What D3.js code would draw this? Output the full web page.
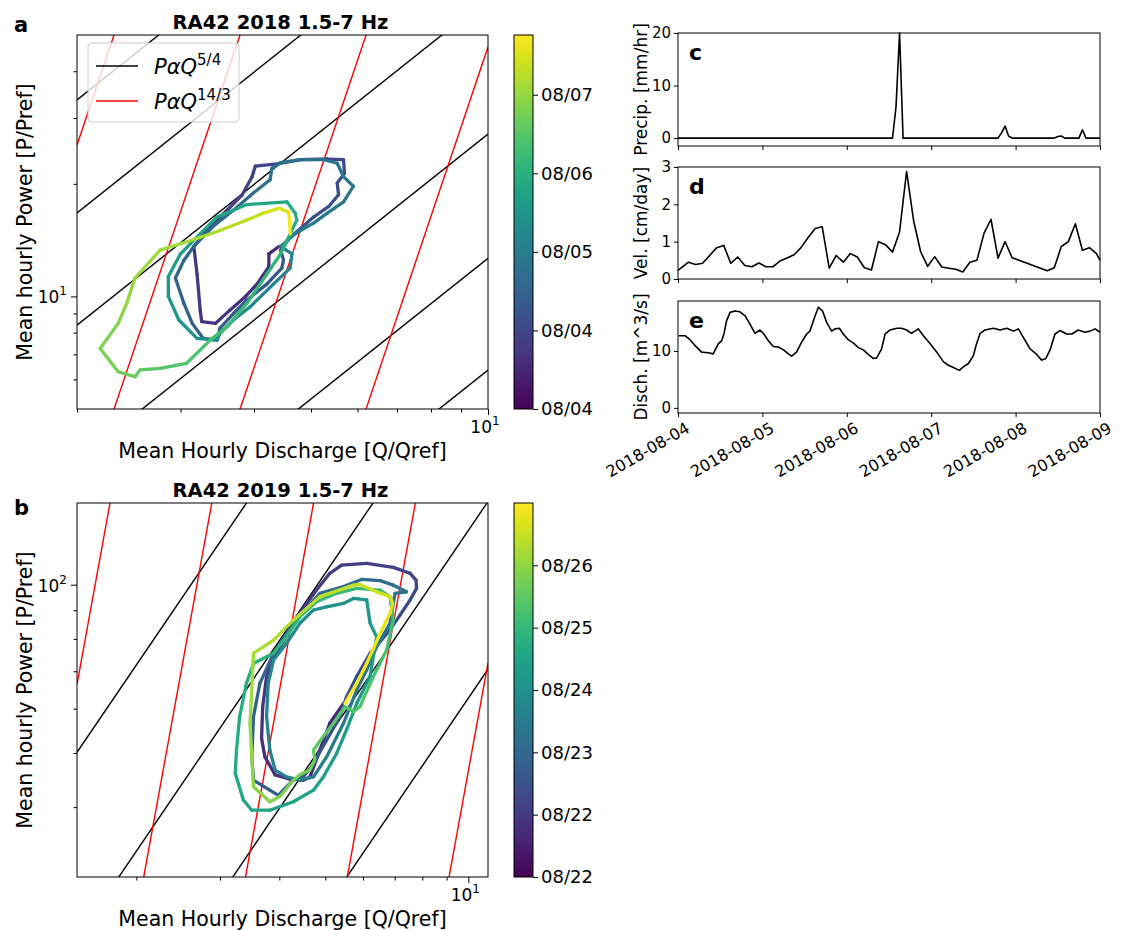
<!DOCTYPE html>
<html>
<head>
<meta charset="utf-8">
<script src="https://cdn.jsdelivr.net/npm/d3@7"></script>
<style>
  body { margin: 0; background: #fff; }
  text { font-family: "DejaVu Sans", sans-serif; }
</style>
</head>
<body>
<script>
// ---------- data: hysteresis loops, 2018 (panel a), [Q/Qref, P/Pref] ----------
const loopA1 = [[4.41,13.6],[4.24,13.0],[4.24,12.0],[4.05,10.8],[3.87,10.0],[3.64,9.19],[3.44,8.47],[3.26,8.56],
  [3.24,9.19],[3.20,11.5],[3.16,13.6],[3.37,15.4],[3.60,17.0],[3.82,18.7],[3.97,20.9],[4.02,22.3],[4.38,22.6],
  [4.80,23.2],[5.33,23.3],[5.68,23.2],[5.70,21.3],[5.54,20.1],[5.57,18.7],[5.36,17.4],[5.05,16.3],[4.80,15.2],[4.61,14.4]];
const loopA2 = [[4.44,13.3],[4.49,12.5],[4.46,11.9],[4.21,10.8],[3.89,9.78],[3.69,9.00],[3.50,8.22],[3.46,7.64],
  [3.28,7.72],[3.14,8.47],[3.04,9.58],[2.94,11.2],[3.04,12.5],[3.16,13.6],[3.41,15.4],[3.69,17.0],[3.99,18.9],
  [4.26,20.5],[4.29,22.0],[4.44,22.8],[4.80,23.2],[5.26,23.2],[5.54,22.7],[5.68,20.9],[5.90,19.7],[5.68,17.9],
  [5.33,16.7],[5.05,15.7],[4.80,15.0],[4.67,14.6]];
const loopA3 = [[4.44,13.6],[4.64,13.0],[4.61,11.9],[4.32,10.8],[3.94,9.38],[3.69,8.65],[3.50,7.96],[3.46,7.64],
  [3.20,7.72],[2.98,8.65],[2.86,10.0],[2.86,11.3],[3.00,13.0],[3.24,14.7],[3.46,16.3],[3.89,17.6],[4.55,17.9],
  [4.70,16.7],[4.73,16.0],[4.61,14.7]];
const loopA4 = [[4.44,13.0],[4.21,11.5],[3.89,9.58],[3.60,8.30],[3.37,7.64],[3.07,6.62],[2.77,6.42],[2.56,6.36],
  [2.51,6.10],[2.35,6.29],[2.19,7.26],[2.35,8.47],[2.43,9.58],[2.51,11.2],[2.77,13.3]];
const loopA5 = [[3.16,14.2],[3.50,15.0],[3.89,16.0],[4.15,16.7],[4.41,17.2],[4.58,16.8],[4.60,15.7],[4.61,14.7]];
const loopsA = [loopA1, loopA2, loopA3, loopA4, loopA5];
const timesA = [[0.55,1.25],[1.25,2.0],[2.0,3.05],[3.05,4.1],[4.1,4.76]];

// ---------- data: hysteresis loops, 2019 (panel b) ----------
const loopB1 = [[5.46,61.3],[5.11,56.5],[4.87,50.6],[4.64,45.3],[4.49,44.7],[4.21,44.9],[3.92,45.7],[3.73,49.2],
  [3.67,53.1],[3.69,60.5],[3.76,68.5],[3.89,74.3],[4.14,80.7],[4.42,88.9],[4.79,97.8],[5.11,104.8],[5.41,108.4],
  [6.11,109.2],[6.95,107.4],[7.54,104.8],[7.76,101.9],[7.78,98.5],[7.54,93.9],[7.18,88.2],[6.84,83.0],[6.52,79.1],
  [6.21,75.4],[5.82,68.5],[5.54,63.0]];
const loopB2 = [[5.37,58.1],[5.03,52.7],[4.68,47.3],[4.49,45.3],[4.28,44.7],[4.11,43.2],[3.98,42.0],[3.82,42.9],
  [3.67,43.8],[3.53,44.7],[3.50,49.2],[3.53,58.1],[3.64,66.6],[3.89,75.4],[4.28,85.3],[4.87,96.5],[5.46,99.2],
  [5.96,102.2],[6.52,101.7],[6.95,99.8],[7.41,97.1],[7.01,96.5],[6.95,92.6],[6.84,85.3],[6.41,77.4],[6.11,70.4],[5.82,64.8]];
const loopB3 = [[5.46,56.5],[5.03,49.2],[4.72,45.3],[4.42,44.7],[4.14,45.3],[3.92,46.6],[3.82,50.6],[3.76,58.1],
  [3.79,66.6],[3.89,73.3],[4.14,78.5],[4.42,85.3],[4.72,90.1],[5.03,91.3],[5.46,92.6],[5.73,94.5],[6.11,93.9],
  [6.21,85.3],[6.41,80.7],[6.21,68.5],[5.82,61.3]];
const loopB4 = [[5.54,55.0],[5.28,49.9],[4.95,45.3],[4.72,42.9],[4.28,40.9],[3.82,39.5],[3.50,39.5],[3.36,41.2],
  [3.23,46.0],[3.25,50.6],[3.30,58.1],[3.41,66.6],[3.53,72.3],[3.89,75.4],[4.14,80.7],[4.42,87.6],[4.79,93.2],
  [5.28,96.5],[5.82,98.5],[6.52,97.8],[6.84,95.2],[6.95,86.4],[6.73,76.4],[6.31,68.5],[5.91,60.5],[5.73,59.3],[5.50,60.5]];
const loopB5 = [[5.20,56.5],[4.95,53.5],[4.72,50.6],[4.75,48.6],[4.64,46.6],[4.42,45.7],[4.28,44.7],[4.01,41.8],
  [3.82,40.9],[3.53,43.5],[3.50,49.2],[3.47,56.5],[3.50,64.8],[3.53,75.4],[3.89,79.6],[4.28,86.4],[4.87,95.2],
  [5.73,99.8],[5.91,100.1],[6.41,97.1],[6.84,95.2],[6.93,92.6],[6.84,88.9],[6.52,81.8],[6.11,72.3],[5.82,66.6],[5.50,61.3]];
const loopsB = [loopB1, loopB2, loopB3, loopB4, loopB5];
const timesB = [[0.6,1.5],[1.5,2.4],[2.4,3.3],[3.3,4.4],[4.4,6.0]];

// power-law reference lines: log10 of the prefactor
const blackLogCA = [1.149, 0.847, 0.547, 0.184, -0.148, -0.447];
const blackLogCB = [1.48, 1.147, 0.847, 0.547];
const redLogC = [1, 0, -1, -2, -3];

// colorbar ticks
const cbTicksA = [0, 1, 2, 3, 4];
const cbLabelsA = ["08/04", "08/04", "08/05", "08/06", "08/07"];
const cbTicksB = [0, 1, 2, 3, 4, 5];
const cbLabelsB = ["08/22", "08/22", "08/23", "08/24", "08/25", "08/26"];

// ---------- data: time series (hours after 2018-08-04 00:00) ----------
const precipHr = [0, 61, 62, 63, 64, 91, 92, 93, 94, 95, 107, 108, 109, 110, 114, 115, 116, 120];
const precipVal = [0, 0, 6, 20, 0, 0, 1.0, 2.3, 0.4, 0, 0, 0.3, 0.4, 0, 0, 1.6, 0, 0];

const velHr = [0, 3, 5, 7, 9, 11, 13, 15, 17, 19, 21, 23, 25, 27, 29, 31, 33, 35, 37, 39, 41, 43, 45, 47, 49, 51, 53, 55,
  57, 59, 61, 63, 65, 67, 69, 71, 73, 75, 77, 79, 81, 83, 85, 87, 89, 91, 93, 95, 105, 107, 109, 111, 113, 115, 117, 119, 120];
const velVal = [0.23, 0.45, 0.39, 0.42, 0.63, 0.84, 0.90, 0.42, 0.59, 0.36, 0.33, 0.43, 0.33, 0.33, 0.48, 0.56, 0.65, 0.84,
  1.11, 1.35, 1.40, 0.29, 0.63, 0.45, 0.68, 0.59, 0.30, 0.24, 1.0, 0.92, 0.72, 1.26, 2.88, 1.56, 0.73, 0.34, 0.60, 0.32,
  0.29, 0.26, 0.19, 0.45, 0.50, 1.22, 1.60, 0.56, 1.0, 0.57, 0.22, 0.30, 0.87, 1.0, 1.48, 0.77, 0.84, 0.68, 0.5];

const dischHr = [0.2, 2.0, 3.4, 4.8, 6.7, 8.6, 10.0, 11.5, 12.4, 13.1, 13.8, 14.8, 16.2, 17.6, 19.1, 20.5, 21.9, 23.3,
  24.3, 25.7, 27.1, 28.5, 30.0, 31.4, 32.3, 33.7, 35.2, 36.6, 37.5, 39.0, 39.9, 41.1, 42.3, 43.7, 44.6, 45.9, 47.0,
  48.4, 49.9, 51.3, 52.7, 54.1, 55.5, 56.5, 57.9, 58.9, 60.3, 62.2, 63.6, 65.0, 66.4, 68.3, 69.8, 71.7, 73.6, 75.5,
  76.9, 78.3, 80.0, 81.1, 82.6, 84.0, 84.9, 85.9, 87.3, 89.7, 91.6, 93.5, 95.4, 96.8, 98.2, 100.1, 102.0, 103.4,
  104.6, 105.8, 107.2, 108.6, 110.5, 112.0, 113.8, 115.7, 117.2, 118.6, 120.0];
const dischVal = [12.7, 12.7, 12.0, 11.0, 9.8, 9.7, 9.5, 11.3, 11.8, 13.1, 15.3, 16.8, 17.05, 16.9, 16.2, 14.7, 13.1, 13.7,
  13.1, 11.8, 10.8, 10.7, 10.2, 9.5, 9.1, 9.8, 11.6, 13.0, 13.5, 16.2, 17.7, 17.05, 15.0, 13.5, 13.9, 14.0, 13.0,
  12.0, 11.4, 10.6, 10.2, 9.4, 8.7, 8.8, 10.4, 13.0, 13.7, 14.0, 14.0, 13.7, 13.1, 13.9, 12.7, 11.3, 9.8, 8.1,
  7.5, 7.1, 6.6, 7.2, 7.8, 9.2, 11.3, 13.1, 13.7, 14.0, 13.7, 14.0, 13.5, 13.9, 12.4, 10.4, 9.4, 8.4,
  8.7, 10.2, 13.0, 13.6, 13.0, 13.0, 13.7, 13.3, 13.5, 13.9, 13.3];

// ---------- page ----------
const W = 1127, H = 930;
const svg = d3.select("body").append("svg").attr("width", W).attr("height", H);
svg.append("rect").attr("width", W).attr("height", H).attr("fill", "#fff");
const defs = svg.append("defs");

// superscript label like 10^1
function powLabel(g, x, y, base, exp, anchor) {
  const t = g.append("text").attr("x", x).attr("y", y).attr("text-anchor", anchor)
    .attr("font-size", 17).attr("fill", "#000");
  t.append("tspan").text(base);
  t.append("tspan").attr("dy", -8).attr("font-size", 12).text(exp);
}

function logPanel(cfg) {
  const left = 77, right = 488;
  const x = d3.scaleLog().domain(cfg.qDomain).range([left, right]);
  const y = d3.scaleLog().domain(cfg.pDomain).range([cfg.bottom, cfg.top]);
  const g = svg.append("g");

  defs.append("clipPath").attr("id", "clip" + cfg.id)
    .append("rect").attr("x", left).attr("y", cfg.top)
    .attr("width", right - left).attr("height", cfg.bottom - cfg.top);
  const plot = g.append("g").attr("clip-path", `url(#clip${cfg.id})`);

  const line = d3.line().x(d => x(d[0])).y(d => y(d[1]));
  const powerLine = (logc, k) => cfg.qDomain.map(q => [q, Math.pow(10, logc) * Math.pow(q, k)]);

  cfg.blackC.forEach(c => {
    plot.append("path").attr("d", line(powerLine(c, 5 / 4)))
      .attr("fill", "none").attr("stroke", "#000").attr("stroke-width", 1.4);
  });
  redLogC.forEach(c => {
    plot.append("path").attr("d", line(powerLine(c, 14 / 3)))
      .attr("fill", "none").attr("stroke", "#ff0000").attr("stroke-width", 1.4);
  });

  // loops coloured by time, one continuous trace
  const pts = [];
  cfg.loops.forEach((lp, i) => {
    const [t0, t1] = cfg.times[i];
    lp.forEach((p, j) => pts.push({ q: p[0], p: p[1], t: t0 + (t1 - t0) * j / (lp.length - 1) }));
  });
  const segs = d3.pairs(pts);
  plot.selectAll("line.seg").data(segs).enter().append("line")
    .attr("x1", d => x(d[0].q)).attr("y1", d => y(d[0].p))
    .attr("x2", d => x(d[1].q)).attr("y2", d => y(d[1].p))
    .attr("stroke", d => d3.interpolateViridis(((d[0].t + d[1].t) / 2) / cfg.cbMax))
    .attr("stroke-width", 3.3).attr("stroke-linecap", "round");

  // frame
  g.append("rect").attr("x", left).attr("y", cfg.top)
    .attr("width", right - left).attr("height", cfg.bottom - cfg.top)
    .attr("fill", "none").attr("stroke", "#000").attr("stroke-width", 1);

  // axes
  const xMinor = g.append("g").attr("transform", `translate(0,${cfg.bottom})`)
    .call(d3.axisBottom(x).tickValues(cfg.qMinor).tickSize(3.5).tickFormat(""));
  const xMajor = g.append("g").attr("transform", `translate(0,${cfg.bottom})`)
    .call(d3.axisBottom(x).tickValues([10]).tickSize(6).tickFormat(""));
  const yMinor = g.append("g").attr("transform", `translate(${left},0)`)
    .call(d3.axisLeft(y).tickValues(cfg.pMinor).tickSize(3.5).tickFormat(""));
  const yMajor = g.append("g").attr("transform", `translate(${left},0)`)
    .call(d3.axisLeft(y).tickValues([cfg.pMajor]).tickSize(6).tickFormat(""));
  [xMinor, xMajor, yMinor, yMajor].forEach(a => a.select(".domain").remove());
  g.selectAll(".tick line").attr("stroke", "#000");

  powLabel(g, x(10) - 3, cfg.bottom + 24, "10", "1", "middle");
  powLabel(g, left - 10, y(cfg.pMajor) + 7, "10", cfg.pMajorExp, "end");

  g.append("text").attr("x", (left + right) / 2).attr("y", cfg.bottom + 49)
    .attr("text-anchor", "middle").attr("font-size", 20.5).text("Mean Hourly Discharge [Q/Qref]");
  g.append("text").attr("transform", `translate(32,${(cfg.top + cfg.bottom) / 2}) rotate(-90)`)
    .attr("text-anchor", "middle").attr("font-size", 20.5).text("Mean hourly Power [P/Pref]");
  g.append("text").attr("x", (left + right) / 2 - 2).attr("y", cfg.top - 6)
    .attr("text-anchor", "middle").attr("font-size", 19.5).attr("font-weight", "bold").text(cfg.title);
  g.append("text").attr("x", 14).attr("y", cfg.letterY)
    .attr("font-size", 21).attr("font-weight", "bold").text(cfg.letter);

  // colorbar
  const cbx = 514, cbw = 19;
  const grad = defs.append("linearGradient").attr("id", "grad" + cfg.id)
    .attr("x1", 0).attr("y1", 1).attr("x2", 0).attr("y2", 0);
  d3.range(0, 1.0001, 0.05).forEach(o => {
    grad.append("stop").attr("offset", o).attr("stop-color", d3.interpolateViridis(o));
  });
  g.append("rect").attr("x", cbx).attr("y", cfg.top).attr("width", cbw).attr("height", cfg.bottom - cfg.top)
    .attr("fill", `url(#grad${cfg.id})`).attr("stroke", "#000").attr("stroke-width", 1);
  const cb = d3.scaleLinear().domain([0, cfg.cbMax]).range([cfg.bottom, cfg.top]);
  const cbAxis = g.append("g").attr("transform", `translate(${cbx + cbw},0)`)
    .call(d3.axisRight(cb).tickValues(cfg.cbTicks).tickSize(5).tickPadding(3)
      .tickFormat((d, i) => cfg.cbLabels[i]));
  cbAxis.select(".domain").remove();
  cbAxis.selectAll("text").attr("font-size", 18).attr("font-family", "DejaVu Sans").attr("fill", "#000");
  cbAxis.selectAll(".tick line").attr("stroke", "#000");

  return { g, x, y };
}

const pa = logPanel({
  id: "a", letter: "a", letterY: 32, title: "RA42 2018 1.5-7 Hz",
  qDomain: [2, 10], pDomain: [5, 50], top: 35, bottom: 409,
  qMinor: [2, 3, 4, 5, 6, 7, 8, 9], pMinor: [6, 7, 8, 9, 20, 30, 40], pMajor: 10, pMajorExp: "1",
  blackC: blackLogCA, loops: loopsA, times: timesA,
  cbMax: 4.76, cbTicks: cbTicksA, cbLabels: cbLabelsA
});

logPanel({
  id: "b", letter: "b", letterY: 515, title: "RA42 2019 1.5-7 Hz",
  qDomain: [1.5, 11], pDomain: [30, 140], top: 503, bottom: 877,
  qMinor: [2, 3, 4, 5, 6, 7, 8, 9], pMinor: [40, 50, 60, 70, 80, 90], pMajor: 100, pMajorExp: "2",
  blackC: blackLogCB, loops: loopsB, times: timesB,
  cbMax: 6.0, cbTicks: cbTicksB, cbLabels: cbLabelsB
});

// legend in panel a
const leg = pa.g.append("g");
leg.append("rect").attr("x", 88).attr("y", 43).attr("width", 151).attr("height", 79).attr("rx", 4)
  .attr("fill", "#fff").attr("fill-opacity", 0.8).attr("stroke", "#ccc");
[["#000", "5/4", 66], ["#ff0000", "14/3", 101]].forEach(([col, ex, yy]) => {
  leg.append("line").attr("x1", 96).attr("x2", 138).attr("y1", yy).attr("y2", yy)
    .attr("stroke", col).attr("stroke-width", 1.4);
  const t = leg.append("text").attr("x", 154).attr("y", yy + 8).attr("font-size", 21);
  t.append("tspan").attr("font-style", "italic").text("PαQ");
  t.append("tspan").attr("dy", -9).attr("font-size", 15).text(ex);
});

// ---------- time series panels ----------
const t0 = new Date(2018, 7, 4);
const toDate = h => new Date(t0.getTime() + h * 3600e3);
const dayTicks = d3.range(0, 6).map(d => toDate(d * 24));
const xt = d3.scaleTime().domain([toDate(0), toDate(120)]).range([678, 1100]);

function tsPanel(cfg) {
  const y = d3.scaleLinear().domain(cfg.yDomain).range([cfg.bottom, cfg.top]);
  const g = svg.append("g");
  const line = d3.line().x(d => xt(toDate(d[0]))).y(d => y(d[1]));
  const pts = cfg.hrs.map((h, i) => [h, cfg.vals[i]]);
  g.append("path").attr("d", line(pts)).attr("fill", "none")
    .attr("stroke", "#000").attr("stroke-width", 1.6).attr("stroke-linejoin", "round");
  g.append("rect").attr("x", 678).attr("y", cfg.top).attr("width", 422).attr("height", cfg.bottom - cfg.top)
    .attr("fill", "none").attr("stroke", "#000").attr("stroke-width", 1);
  const ya = g.append("g").attr("transform", "translate(678,0)")
    .call(d3.axisLeft(y).tickValues(cfg.yTicks).tickSize(4).tickPadding(3).tickFormat(d3.format("d")));
  ya.select(".domain").remove();
  ya.selectAll("text").attr("font-size", 15).attr("font-family", "DejaVu Sans").attr("fill", "#000");
  const xa = g.append("g").attr("transform", `translate(0,${cfg.bottom})`)
    .call(d3.axisBottom(xt).tickValues(dayTicks).tickSize(4)
      .tickFormat(cfg.dates ? d3.timeFormat("%Y-%m-%d") : ""));
  xa.select(".domain").remove();
  xa.selectAll("text").attr("font-size", 16).attr("font-family", "DejaVu Sans").attr("fill", "#000")
    .attr("text-anchor", "end").attr("transform", "translate(4,4) rotate(-30)").attr("dy", "0.6em");
  g.selectAll(".tick line").attr("stroke", "#000");
  g.append("text").attr("transform", `translate(647,${(cfg.top + cfg.bottom) / 2}) rotate(-90)`)
    .attr("text-anchor", "middle").attr("font-size", 17).text(cfg.label);
  g.append("text").attr("x", 689).attr("y", cfg.top + 27)
    .attr("font-size", 22).attr("font-weight", "bold").text(cfg.letter);
}

tsPanel({ letter: "c", label: "Precip. [mm/hr]", hrs: precipHr, vals: precipVal,
  yDomain: [-1.5, 20], yTicks: [0, 10, 20], top: 33, bottom: 146 });
tsPanel({ letter: "d", label: "Vel. [cm/day]", hrs: velHr, vals: velVal,
  yDomain: [0, 3], yTicks: [0, 1, 2, 3], top: 167, bottom: 279 });
tsPanel({ letter: "e", label: "Disch. [m^3/s]", hrs: dischHr, vals: dischVal,
  yDomain: [-0.9, 18.8], yTicks: [0, 10], top: 301, bottom: 413, dates: true });
</script>
</body>
</html>
